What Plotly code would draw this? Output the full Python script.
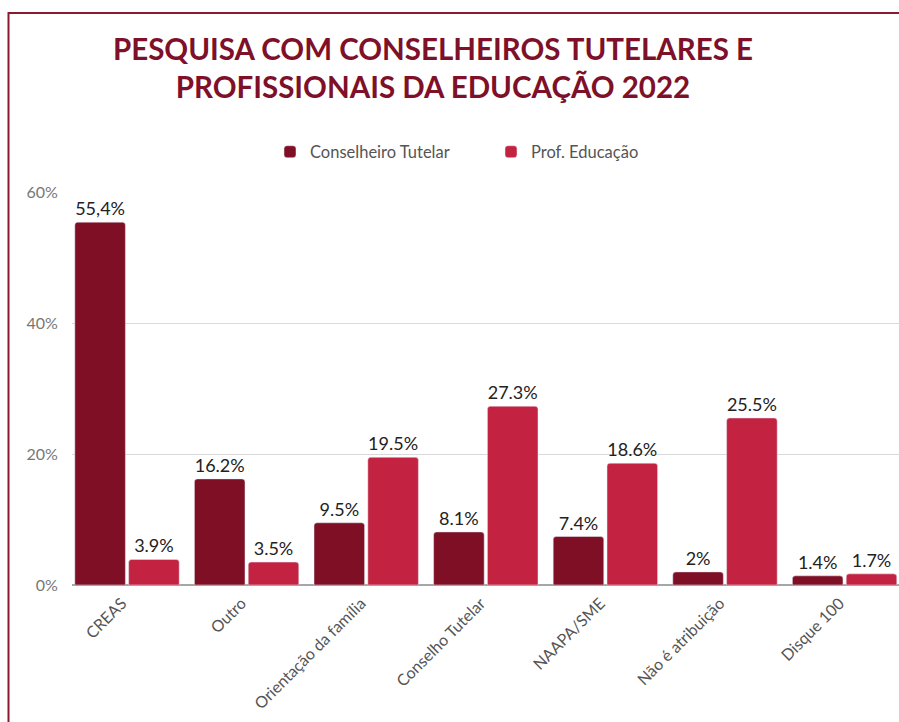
import plotly.graph_objects as go

# Survey data: where each group refers cases (percent of answers)
categories = ["CREAS", "Outro", "Orientação da família", "Conselho Tutelar",
              "NAAPA/SME", "Não é atribuição", "Disque 100"]
conselheiro = [55.4, 16.2, 9.5, 8.1, 7.4, 2.0, 1.4]
professor = [3.9, 3.5, 19.5, 27.3, 18.6, 25.5, 1.7]
conselheiro_labels = ["55,4%", "16.2%", "9.5%", "8.1%", "7.4%", "2%", "1.4%"]
professor_labels = ["3.9%", "3.5%", "19.5%", "27.3%", "18.6%", "25.5%", "1.7%"]
y_ticks = [0, 20, 40, 60]
y_tick_text = ["0%", "20%", "40%", "60%"]

DARK = "#7F0F25"
LIGHT = "#C32340"
TITLE_COLOR = "#7E1029"
FONT = "Lato, 'Open Sans', sans-serif"

W, H = 899, 722
ML, MR, MT, MB = 72, 0, 192, 137
plot_w = W - ML - MR
plot_h = H - MT - MB

fig = go.Figure()
fig.add_trace(go.Bar(
    name="Conselheiro Tutelar", x=categories, y=conselheiro,
    marker=dict(color=DARK, cornerradius=3),
    text=conselheiro_labels, textposition="outside",
    textfont=dict(size=18, color="#222222", family=FONT),
    cliponaxis=False, hoverinfo="skip",
))
fig.add_trace(go.Bar(
    name="Prof. Educação", x=categories, y=professor,
    marker=dict(color=LIGHT, cornerradius=3),
    text=professor_labels, textposition="outside",
    textfont=dict(size=18, color="#222222", family=FONT),
    cliponaxis=False, hoverinfo="skip",
))

# outer frame around the chart card
px_to_paper_x = lambda px: (px - ML) / plot_w
px_to_paper_y = lambda py: (H - MB - py) / plot_h
fig.add_shape(type="rect", xref="paper", yref="paper",
              x0=px_to_paper_x(8.5), x1=px_to_paper_x(W + 20),
              y0=px_to_paper_y(H + 20), y1=px_to_paper_y(13),
              line=dict(color="#8B1A30", width=2), fillcolor="rgba(0,0,0,0)",
              layer="below")

fig.update_layout(
    width=W, height=H,
    margin=dict(l=ML, r=MR, t=MT, b=MB),
    paper_bgcolor="white", plot_bgcolor="white",
    font=dict(family=FONT, color="#555555"),
    title=dict(
        text="<b>PESQUISA COM CONSELHEIROS TUTELARES E<br>PROFISSIONAIS DA EDUCAÇÃO 2022</b>",
        x=433 / W, xanchor="center", xref="container",
        y=1 - 60 / H, yanchor="top", yref="container",
        font=dict(family=FONT, size=29.5, color=TITLE_COLOR),
    ),
    barmode="group", bargap=0.1, bargroupgap=0.06,
    showlegend=True,
    legend=dict(
        orientation="h", x=px_to_paper_x(270), xanchor="left",
        y=px_to_paper_y(152), yanchor="middle",
        font=dict(family=FONT, size=16.5, color="#555555"),
        entrywidth=176, entrywidthmode="pixels",
        itemclick=False, itemdoubleclick=False,
    ),
    xaxis=dict(
        range=[-0.46, 6.455], tickangle=-45,
        tickfont=dict(family=FONT, size=16, color="#555555"),
        showgrid=False, showline=False, ticks="",
        ticklabelshift=-5, ticklabelstandoff=5,
    ),
    yaxis=dict(
        range=[0, 60], tickvals=y_ticks, ticktext=y_tick_text,
        tickfont=dict(family=FONT, size=16, color="#777777"),
        showgrid=True, gridcolor="#D9D9D9", gridwidth=1,
        zeroline=True, zerolinecolor="#A6A6A6", zerolinewidth=1.5,
        showline=False, ticks="outside", ticklen=10, tickcolor="rgba(0,0,0,0)",
    ),
)

fig.write_html("out.html")
